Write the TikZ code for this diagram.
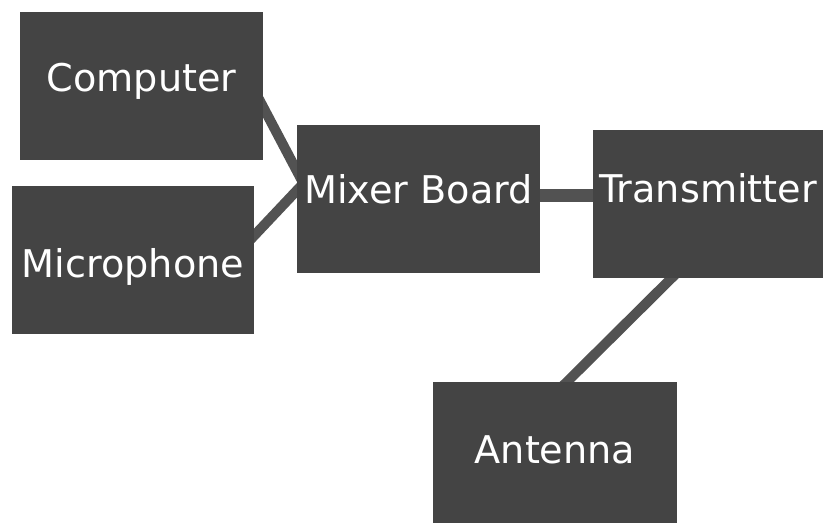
\documentclass[tikz,border=0pt]{standalone}
\usepackage{fontspec}
\setmainfont{DejaVu Sans}
\usetikzlibrary{positioning, calc, backgrounds}

\definecolor{boxgray}{RGB}{68,68,68}
\definecolor{wiregray}{RGB}{82,82,82}

\tikzset{
    block/.style={fill=boxgray, draw=none, text=white, inner sep=0pt,
        font=\fontsize{38.2}{40}\selectfont,
        text height=24pt, text depth=12pt},
    wire/.style={draw=wiregray, line width=10pt}
}

\begin{document}
\begin{tikzpicture}[x=1pt, y=-1pt]

    \useasboundingbox (0, 0) rectangle (823, 527);

    % Sources
    \node[block, minimum width=243pt, minimum height=148pt] (comp) at (141.5, 86) {Computer};
    \node[block, minimum width=242pt, minimum height=148pt,
        text height=34pt, text depth=0pt] (mic) at (133, 260) {Microphone};

    % Mixer and transmitter
    \node[block, minimum width=243pt, minimum height=148pt,
        text height=24pt, text depth=14pt] (mixer) at (418.5, 199) {Mixer Board};
    \node[block, minimum width=230pt, minimum height=147pt,
        text height=26pt, text depth=30pt] (trans) at (708, 204) {Transmitter};

    % Antenna
    \node[block, minimum width=244pt, minimum height=141pt,
        text height=30pt, text depth=8pt] (ant) at (555, 452.5) {Antenna};

    % Cables
    \begin{scope}[on background layer]
        \draw[wire] ($(comp.east)+(-8,6)$) -- ($(mixer.west)+(8,-13)$);
        \draw[wire] ($(mic.east)+(-6,-18)$) -- ($(mixer.west)+(8,-17)$);
        \draw[wire, line width=13pt] ($(mixer.east)+(-5,-4)$) -- ($(trans.west)+(5,-9)$);
        \draw[wire] ($(trans.south)+(-33,-3)$) -- ($(ant.north)+(8,4)$);
    \end{scope}

\end{tikzpicture}
\end{document}
